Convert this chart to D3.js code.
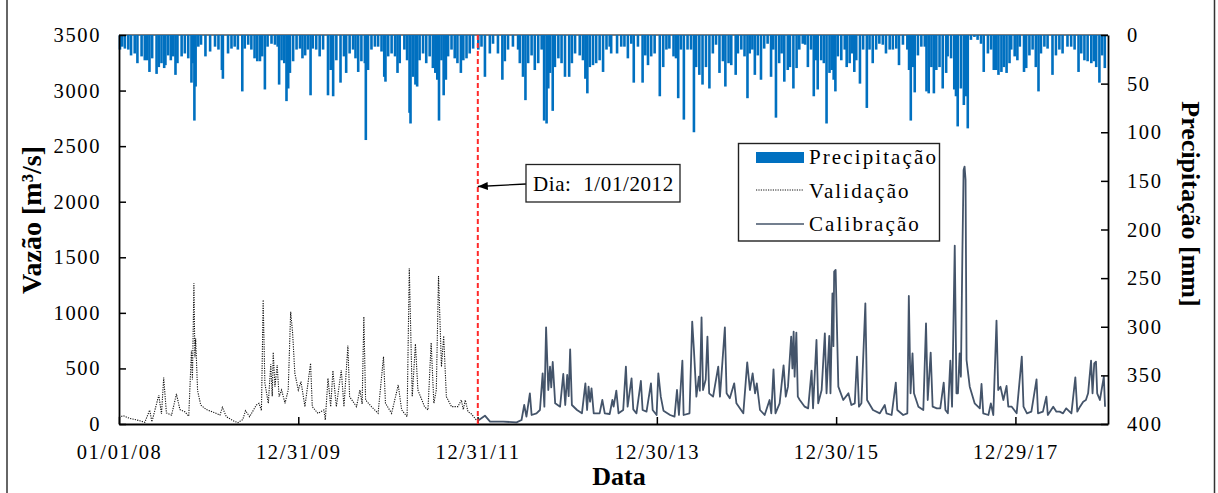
<!DOCTYPE html>
<html>
<head>
<meta charset="utf-8">
<script src="https://cdn.jsdelivr.net/npm/d3@7"></script>
<style>
  body { margin: 0; background: #fff; }
  text { font-family: "Liberation Serif", "Times New Roman", serif; fill: #000; }
</style>
</head>
<body>
<svg id="chart" width="1218" height="493"></svg>
<script>
// ---- data ----
const xTickDates = ["2008-01-01", "2009-12-31", "2011-12-31", "2013-12-30", "2015-12-30", "2017-12-29"];
const yLeftTicks = [0, 500, 1000, 1500, 2000, 2500, 3000, 3500];
const yRightTicks = [0, 50, 100, 150, 200, 250, 300, 350, 400];
const splitDate = "2012-01-01";

// daily rainfall [mm] (hanging from the top, right axis)
const precipitacao = [
  ["2008-01-05",15],["2008-01-14",12],["2008-01-25",14],["2008-02-08",15],["2008-02-19",21],["2008-03-05",19],
  ["2008-03-16",29],["2008-04-02",22],["2008-04-15",26],["2008-04-25",26],["2008-05-04",38],["2008-05-15",24],
  ["2008-06-02",40],["2008-06-11",33],["2008-06-22",29],["2008-07-03",34],["2008-07-08",31],["2008-07-19",21],
  ["2008-07-30",26],["2008-08-09",22],["2008-08-18",41],["2008-08-26",29],["2008-09-12",22],["2008-09-25",19],
  ["2008-10-09",24],["2008-10-22",49],["2008-10-29",29],["2008-11-03",88],["2008-11-08",53],["2008-11-19",12],
  ["2008-11-30",10],["2008-12-18",22],["2009-01-06",17],["2009-01-26",12],["2009-02-09",15],["2009-02-23",36],
  ["2009-02-27",45],["2009-03-20",19],["2009-04-03",14],["2009-04-16",12],["2009-04-29",15],["2009-05-17",58],
  ["2009-05-27",14],["2009-06-10",10],["2009-06-23",15],["2009-07-06",24],["2009-07-17",27],["2009-07-28",27],
  ["2009-08-06",22],["2009-08-17",56],["2009-08-28",12],["2009-09-13",9],["2009-09-27",10],["2009-10-08",12],
  ["2009-10-14",51],["2009-10-24",26],["2009-11-04",29],["2009-11-13",68],["2009-11-20",55],["2009-11-27",39],
  ["2009-12-10",27],["2009-12-24",15],["2010-01-07",14],["2010-01-17",24],["2010-01-28",21],["2010-02-08",15],
  ["2010-02-19",62],["2010-02-28",14],["2010-03-14",15],["2010-03-28",22],["2010-04-11",15],["2010-05-01",62],
  ["2010-05-12",36],["2010-05-22",63],["2010-06-04",26],["2010-06-21",49],["2010-07-05",22],["2010-07-14",39],
  ["2010-07-28",19],["2010-08-11",15],["2010-08-21",24],["2010-09-01",38],["2010-09-14",27],["2010-09-28",29],
  ["2010-10-02",108],["2010-10-11",36],["2010-10-25",15],["2010-11-08",12],["2010-11-21",12],["2010-12-05",17],
  ["2010-12-16",43],["2010-12-21",48],["2011-01-01",22],["2011-01-15",19],["2011-01-29",22],["2011-02-08",39],
  ["2011-02-17",29],["2011-03-08",15],["2011-03-19",26],["2011-03-29",80],["2011-04-02",91],["2011-04-12",43],
  ["2011-04-22",51],["2011-04-29",53],["2011-05-09",26],["2011-05-23",19],["2011-06-05",29],["2011-06-19",22],
  ["2011-07-02",34],["2011-07-12",39],["2011-07-20",46],["2011-07-27",88],["2011-08-06",26],["2011-08-15",62],
  ["2011-08-24",46],["2011-09-02",22],["2011-09-16",15],["2011-09-29",24],["2011-10-10",29],["2011-10-24",39],
  ["2011-11-03",26],["2011-11-16",24],["2011-11-29",19],["2011-12-13",14],["2012-01-03",15],["2012-01-16",12],
  ["2012-01-30",43],["2012-02-19",19],["2012-03-03",9],["2012-03-23",19],["2012-04-10",46],["2012-04-20",27],
  ["2012-05-03",15],["2012-05-23",12],["2012-06-13",15],["2012-06-20",29],["2012-07-03",43],["2012-07-13",67],
  ["2012-07-24",29],["2012-08-07",21],["2012-08-20",36],["2012-09-03",29],["2012-09-17",15],["2012-09-27",88],
  ["2012-10-07",91],["2012-10-14",55],["2012-10-21",39],["2012-11-01",78],["2012-11-10",33],["2012-11-24",24],
  ["2012-12-07",29],["2012-12-21",43],["2013-01-07",43],["2013-01-18",29],["2013-01-31",19],["2013-02-19",21],
  ["2013-03-04",26],["2013-03-14",45],["2013-03-22",60],["2013-04-01",33],["2013-04-14",31],["2013-04-27",29],
  ["2013-05-11",26],["2013-05-25",38],["2013-06-08",15],["2013-06-21",12],["2013-06-27",19],["2013-07-21",19],
  ["2013-08-07",12],["2013-08-20",12],["2013-09-03",24],["2013-09-17",9],["2013-09-27",49],["2013-10-14",12],
  ["2013-11-02",49],["2013-11-13",21],["2013-11-24",31],["2013-12-07",22],["2013-12-21",19],["2014-01-11",63],
  ["2014-01-25",33],["2014-02-07",15],["2014-02-19",14],["2014-03-08",22],["2014-03-18",24],["2014-03-27",65],
  ["2014-04-07",15],["2014-04-19",87],["2014-05-04",15],["2014-05-18",15],["2014-05-30",100],["2014-06-08",33],
  ["2014-06-21",41],["2014-07-04",51],["2014-07-18",33],["2014-08-01",55],["2014-08-15",19],["2014-08-28",10],
  ["2014-09-11",39],["2014-09-25",27],["2014-10-05",53],["2014-10-18",29],["2014-10-29",31],["2014-11-16",41],
  ["2014-11-25",19],["2014-12-09",15],["2014-12-22",22],["2015-01-03",65],["2015-01-12",19],["2015-01-23",15],
  ["2015-02-02",41],["2015-02-14",21],["2015-02-27",46],["2015-03-12",14],["2015-03-26",9],["2015-04-09",43],
  ["2015-04-18",15],["2015-04-29",85],["2015-05-12",29],["2015-05-22",19],["2015-06-02",48],["2015-06-16",36],
  ["2015-06-25",33],["2015-07-09",55],["2015-07-22",34],["2015-08-02",15],["2015-08-16",9],["2015-08-26",10],
  ["2015-09-06",33],["2015-09-19",15],["2015-09-30",63],["2015-10-10",26],["2015-10-16",56],["2015-10-30",26],
  ["2015-11-10",29],["2015-11-21",91],["2015-12-03",39],["2015-12-12",36],["2015-12-20",46],["2015-12-27",58],
  ["2016-01-06",22],["2016-01-20",26],["2016-02-03",15],["2016-02-11",33],["2016-02-23",29],["2016-03-03",19],
  ["2016-03-13",38],["2016-03-21",26],["2016-04-05",50],["2016-04-18",15],["2016-05-03",75],["2016-05-14",15],
  ["2016-05-27",29],["2016-06-10",15],["2016-06-23",9],["2016-07-07",10],["2016-07-20",19],["2016-08-04",15],
  ["2016-08-17",15],["2016-08-31",14],["2016-09-11",31],["2016-09-27",10],["2016-10-15",15],["2016-10-22",36],
  ["2016-10-29",88],["2016-11-07",33],["2016-11-14",59],["2016-11-27",21],["2016-12-11",12],["2016-12-25",12],
  ["2017-01-01",58],["2017-01-10",60],["2017-01-21",33],["2017-01-31",60],["2017-02-10",36],["2017-02-23",33],
  ["2017-03-08",55],["2017-03-22",39],["2017-03-28",22],["2017-04-11",24],["2017-04-24",56],["2017-05-01",63],
  ["2017-05-08",94],["2017-05-21",55],["2017-06-02",72],["2017-06-11",63],["2017-06-18",96],["2017-07-01",5],
  ["2017-07-15",2],["2017-07-28",5],["2017-08-11",9],["2017-08-22",38],["2017-09-08",19],["2017-09-21",15],
  ["2017-10-02",36],["2017-10-12",36],["2017-10-21",41],["2017-11-02",38],["2017-11-12",33],["2017-11-23",39],
  ["2017-12-05",29],["2017-12-12",15],["2017-12-26",22],["2018-01-06",26],["2018-01-16",12],["2018-02-02",38],
  ["2018-02-11",34],["2018-02-24",21],["2018-03-09",15],["2018-03-22",33],["2018-04-02",58],["2018-04-12",19],
  ["2018-04-26",12],["2018-05-09",14],["2018-05-29",41],["2018-06-12",21],["2018-06-26",15],["2018-07-09",19],
  ["2018-07-29",12],["2018-08-13",12],["2018-08-27",15],["2018-09-12",38],["2018-09-23",19],["2018-10-06",26],
  ["2018-10-19",27],["2018-11-03",29],["2018-11-14",27],["2018-11-23",33],["2018-12-06",49],["2018-12-17",21],
  ["2018-12-28",34]
];

// discharge [m3/s], validation period
const validacao = [
  ["2008-01-01",60],["2008-01-18",75],["2008-02-14",50],["2008-03-25",30],["2008-04-15",15],["2008-05-05",125],
  ["2008-05-14",20],["2008-06-11",260],["2008-06-22",90],["2008-07-01",417],["2008-07-12",100],["2008-08-02",80],
  ["2008-08-22",270],["2008-09-05",130],["2008-09-25",110],["2008-10-11",70],["2008-10-22",660],["2008-10-26",400],
  ["2008-11-01",1266],["2008-11-05",600],["2008-11-08",770],["2008-11-16",300],["2008-11-29",170],["2008-12-22",130],
  ["2009-01-26",100],["2009-02-15",80],["2009-02-25",150],["2009-03-13",66],["2009-04-09",30],["2009-04-29",12],
  ["2009-05-19",40],["2009-05-30",120],["2009-06-16",66],["2009-07-13",170],["2009-07-24",186],["2009-08-03",120],
  ["2009-08-10",1116],["2009-08-17",366],["2009-08-31",186],["2009-09-10",537],["2009-09-16",250],["2009-09-20",645],
  ["2009-09-27",336],["2009-10-06",531],["2009-10-14",246],["2009-10-24",306],["2009-11-07",186],["2009-11-20",306],
  ["2009-11-30",1011],["2009-12-08",816],["2009-12-17",456],["2009-12-31",306],["2010-01-11",381],["2010-01-27",156],
  ["2010-02-19",546],["2010-02-26",156],["2010-03-21",96],["2010-04-14",126],["2010-04-20",36],["2010-05-01",411],
  ["2010-05-12",156],["2010-05-21",480],["2010-06-04",156],["2010-06-24",486],["2010-07-05",156],["2010-07-21",705],
  ["2010-07-28",246],["2010-08-25",156],["2010-09-08",306],["2010-09-17",180],["2010-09-24",966],["2010-10-01",216],
  ["2010-10-25",156],["2010-11-21",96],["2010-12-13",606],["2010-12-21",186],["2011-01-15",96],["2011-02-11",351],
  ["2011-02-25",126],["2011-03-19",66],["2011-03-28",1401],["2011-04-09",246],["2011-04-22",720],["2011-05-02",306],
  ["2011-05-29",156],["2011-06-12",126],["2011-06-25",732],["2011-07-06",186],["2011-07-16",306],["2011-07-25",1332],
  ["2011-08-06",516],["2011-08-15",792],["2011-08-26",246],["2011-09-16",156],["2011-10-12",156],["2011-10-26",216],
  ["2011-11-03",130],["2011-11-11",216],["2011-11-22",111],["2011-12-06",90],["2011-12-26",36],["2011-12-31",30]
];

// discharge [m3/s], calibration period
const calibracao = [
  ["2012-01-01",30],["2012-01-30",75],["2012-02-20",21],["2012-04-13",21],["2012-06-07",15],["2012-06-27",36],
  ["2012-07-08",171],["2012-07-17",66],["2012-07-31",276],["2012-08-07",81],["2012-08-27",96],["2012-09-10",126],
  ["2012-09-21",456],["2012-09-28",156],["2012-10-05",870],["2012-10-14",306],["2012-10-21",516],["2012-10-26",330],
  ["2012-11-01",558],["2012-11-11",186],["2012-12-01",156],["2012-12-14",450],["2012-12-22",171],["2012-12-30",441],
  ["2013-01-05",250],["2013-01-11",672],["2013-01-18",171],["2013-02-08",126],["2013-02-28",96],["2013-03-14",366],
  ["2013-03-21",126],["2013-03-27",336],["2013-04-02",200],["2013-04-08",321],["2013-04-17",96],["2013-05-11",96],
  ["2013-05-22",216],["2013-06-01",96],["2013-06-21",90],["2013-07-02",216],["2013-07-07",156],["2013-07-18",300],
  ["2013-07-27",96],["2013-08-15",126],["2013-08-26",516],["2013-09-02",156],["2013-09-18",411],["2013-09-25",132],
  ["2013-10-08",96],["2013-10-26",387],["2013-11-02",126],["2013-11-18",111],["2013-12-06",366],["2013-12-13",126],
  ["2013-12-29",81],["2014-01-05",456],["2014-01-15",246],["2014-01-26",120],["2014-02-22",81],["2014-03-12",66],
  ["2014-03-22",306],["2014-03-30",81],["2014-04-13",570],["2014-04-18",81],["2014-05-12",96],["2014-05-23",921],
  ["2014-05-30",666],["2014-06-09",246],["2014-06-19",426],["2014-06-23",300],["2014-06-30",960],["2014-07-06",306],
  ["2014-07-17",400],["2014-07-24",786],["2014-07-31",276],["2014-08-16",246],["2014-09-06",516],["2014-09-13",246],
  ["2014-10-03",870],["2014-10-10",276],["2014-10-23",231],["2014-11-10",366],["2014-11-19",186],["2014-12-17",96],
  ["2014-12-27",381],["2015-01-02",555],["2015-01-13",306],["2015-01-24",456],["2015-02-03",276],["2015-02-10",366],
  ["2015-02-23",126],["2015-03-14",81],["2015-04-03",216],["2015-04-10",96],["2015-04-19",492],["2015-04-27",96],
  ["2015-05-14",186],["2015-05-30",528],["2015-06-08",246],["2015-06-17",336],["2015-06-30",786],["2015-07-05",500],
  ["2015-07-10",831],["2015-07-14",426],["2015-07-21",822],["2015-07-27",246],["2015-08-04",216],["2015-08-24",156],
  ["2015-09-07",141],["2015-09-21",480],["2015-09-27",141],["2015-10-11",756],["2015-10-18",186],["2015-11-01",306],
  ["2015-11-14",816],["2015-11-21",276],["2015-12-02",792],["2015-12-07",276],["2015-12-15",1176],["2015-12-19",700],
  ["2015-12-22",1371],["2015-12-28",1386],["2016-01-08",336],["2016-01-28",216],["2016-02-18",276],["2016-03-01",171],
  ["2016-03-15",186],["2016-03-24",606],["2016-04-01",156],["2016-04-11",186],["2016-04-27",1086],["2016-05-04",216],
  ["2016-05-28",126],["2016-06-25",96],["2016-07-15",171],["2016-07-22",96],["2016-08-12",81],["2016-08-29",372],
  ["2016-09-04",126],["2016-09-28",81],["2016-10-15",96],["2016-10-21",1152],["2016-10-28",276],["2016-11-05",636],
  ["2016-11-11",276],["2016-11-29",156],["2016-12-19",126],["2016-12-30",906],["2017-01-06",216],["2017-01-18",642],
  ["2017-01-26",156],["2017-02-12",141],["2017-02-26",141],["2017-03-12",372],["2017-03-19",126],["2017-03-29",96],
  ["2017-04-08",570],["2017-04-15",156],["2017-04-26",1605],["2017-05-03",276],["2017-05-09",276],["2017-05-16",636],
  ["2017-05-21",426],["2017-05-27",1521],["2017-06-01",2286],["2017-06-05",2316],["2017-06-09",2196],["2017-06-13",576],
  ["2017-06-26",336],["2017-07-16",186],["2017-08-06",141],["2017-08-13",360],["2017-08-20",96],["2017-09-10",81],
  ["2017-09-20",186],["2017-09-30",81],["2017-10-13",930],["2017-10-20",306],["2017-10-29",336],["2017-11-10",216],
  ["2017-11-23",342],["2017-11-30",156],["2017-12-14",156],["2018-01-03",96],["2018-01-24",606],["2018-01-31",156],
  ["2018-02-14",96],["2018-03-04",111],["2018-03-25",402],["2018-03-31",96],["2018-04-20",111],["2018-05-04",246],
  ["2018-05-10",81],["2018-06-01",156],["2018-06-14",111],["2018-06-27",111],["2018-07-11",96],["2018-07-24",141],
  ["2018-08-14",96],["2018-08-30",420],["2018-09-07",111],["2018-09-18",156],["2018-10-01",201],["2018-10-12",216],
  ["2018-10-21",276],["2018-11-02",570],["2018-11-08",276],["2018-11-15",546],["2018-11-22",561],["2018-11-27",276],
  ["2018-12-08",216],["2018-12-24",426],["2018-12-29",156]
];

// ---- chart ----
const svg = d3.select("#chart");
const parse = d3.timeParse("%Y-%m-%d");
const plot = {l: 119, r: 1108, t: 35, b: 424};
const fontTick = 20.5;

const start = parse("2008-01-01");
const x = d3.scaleTime()
    .domain([start, d3.timeDay.offset(start, 4027)])
    .range([plot.l, plot.r]);
const yL = d3.scaleLinear().domain([0, 3500]).range([plot.b, plot.t]);
const yR = d3.scaleLinear().domain([0, 400]).range([plot.t, plot.b]);

// outer frame
svg.append("line").attr("x1", 7).attr("x2", 7).attr("y1", 0).attr("y2", 493)
    .attr("stroke", "#333").attr("stroke-width", 1.5);
svg.append("line").attr("x1", 1214.5).attr("x2", 1214.5).attr("y1", 0).attr("y2", 493)
    .attr("stroke", "#333").attr("stroke-width", 1.5);

// top line behind the bars
svg.append("line").attr("x1", plot.l).attr("x2", plot.r).attr("y1", plot.t).attr("y2", plot.t)
    .attr("stroke", "#000").attr("stroke-width", 1.2);

// precipitation bars
svg.append("g").selectAll("rect")
    .data(precipitacao)
    .enter().append("rect")
    .attr("x", d => x(parse(d[0])) - 1.3)
    .attr("y", yR(0))
    .attr("width", 2.6)
    .attr("height", d => yR(d[1]) - yR(0))
    .attr("fill", "#0070c0");

// flow lines
const line = d3.line()
    .x(d => x(parse(d[0])))
    .y(d => yL(d[1]));

svg.append("path").datum(validacao)
    .attr("d", line)
    .attr("fill", "none")
    .attr("stroke", "#111")
    .attr("stroke-width", 1.1)
    .attr("stroke-dasharray", "1.2,1.2");

svg.append("path").datum(calibracao)
    .attr("d", line)
    .attr("fill", "none")
    .attr("stroke", "#44546a")
    .attr("stroke-width", 1.8)
    .attr("stroke-linejoin", "round");

// axes
function styleAxis(g) {
    g.select(".domain").attr("stroke", "#000").attr("stroke-width", 1.8);
    g.selectAll(".tick line").attr("stroke", "#000").attr("stroke-width", 1.5);
    g.selectAll(".tick text")
        .attr("fill", "#000")
        .style("font-family", "'Liberation Serif', serif")
        .style("font-size", fontTick + "px")
        .style("letter-spacing", "1.6px");
}

svg.append("g")
    .attr("transform", `translate(${plot.l},0)`)
    .call(d3.axisLeft(yL).tickValues(yLeftTicks).tickFormat(d3.format("d"))
        .tickSizeInner(-7).tickSizeOuter(0).tickPadding(18))
    .call(styleAxis);

svg.append("g")
    .attr("transform", `translate(${plot.r},0)`)
    .call(d3.axisRight(yR).tickValues(yRightTicks).tickFormat(d3.format("d"))
        .tickSizeInner(-7).tickSizeOuter(0).tickPadding(19))
    .call(styleAxis);

svg.append("g")
    .attr("transform", `translate(0,${plot.b})`)
    .call(d3.axisBottom(x).tickValues(xTickDates.map(parse)).tickSizeInner(-7).tickSizeOuter(0)
        .tickPadding(20).tickFormat(d3.timeFormat("%m/%d/%y")))
    .call(styleAxis);

// split line (start of calibration)
const xs = x(parse(splitDate));
svg.append("line")
    .attr("x1", xs).attr("x2", xs).attr("y1", plot.t).attr("y2", plot.b)
    .attr("stroke", "#ff2a2a").attr("stroke-width", 2)
    .attr("stroke-dasharray", "5,3");

// annotation
svg.append("defs").append("marker")
    .attr("id", "arrow").attr("viewBox", "0 0 10 10")
    .attr("refX", 10).attr("refY", 5)
    .attr("markerWidth", 10).attr("markerHeight", 10)
    .attr("markerUnits", "userSpaceOnUse")
    .attr("orient", "auto")
    .append("path").attr("d", "M0,1 L10,5 L0,9 Z").attr("fill", "#000");

svg.append("line")
    .attr("x1", 526).attr("y1", 184).attr("x2", xs).attr("y2", 186.5)
    .attr("stroke", "#000").attr("stroke-width", 1.3)
    .attr("marker-end", "url(#arrow)");
svg.append("rect")
    .attr("x", 526).attr("y", 164.5).attr("width", 154).attr("height", 37.5)
    .attr("fill", "#fff").attr("stroke", "#222").attr("stroke-width", 1.3);
svg.append("text")
    .attr("x", 533).attr("y", 191)
    .style("font-size", "21px").style("letter-spacing", "0.6px")
    .text("Dia:\u00a0 1/01/2012");

// legend
const lg = svg.append("g").attr("transform", "translate(738,143)");
lg.append("rect").attr("x", 0.5).attr("y", 0.5).attr("width", 201).attr("height", 97.5)
    .attr("fill", "#fff").attr("stroke", "#222").attr("stroke-width", 1.4);
lg.append("rect").attr("x", 18).attr("y", 9).attr("width", 48).attr("height", 11).attr("fill", "#0070c0");
lg.append("line").attr("x1", 18).attr("x2", 66).attr("y1", 47).attr("y2", 47)
    .attr("stroke", "#111").attr("stroke-width", 1).attr("stroke-dasharray", "1.2,1.2");
lg.append("line").attr("x1", 18).attr("x2", 66).attr("y1", 81).attr("y2", 81)
    .attr("stroke", "#44546a").attr("stroke-width", 1.5);
const legendNames = ["Precipitação", "Validação", "Calibração"];
lg.selectAll("text.lab").data(legendNames).enter().append("text")
    .attr("class", "lab")
    .attr("x", 71).attr("y", (d, i) => 21 + i * 33.5)
    .style("font-size", "21px").style("letter-spacing", "2.1px")
    .text(d => d);

// axis titles
svg.append("text")
    .attr("transform", "translate(41,220) rotate(-90)")
    .attr("text-anchor", "middle")
    .style("font-size", "28px").style("font-weight", "bold")
    .text("Vazão [m³/s]");

svg.append("text")
    .attr("transform", "translate(1182,204) rotate(90)")
    .attr("text-anchor", "middle")
    .style("font-size", "26px").style("font-weight", "bold")
    .text("Precipitação [mm]");

svg.append("text")
    .attr("x", 619).attr("y", 485)
    .attr("text-anchor", "middle")
    .style("font-size", "26px").style("font-weight", "bold")
    .text("Data");
</script>
</body>
</html>
